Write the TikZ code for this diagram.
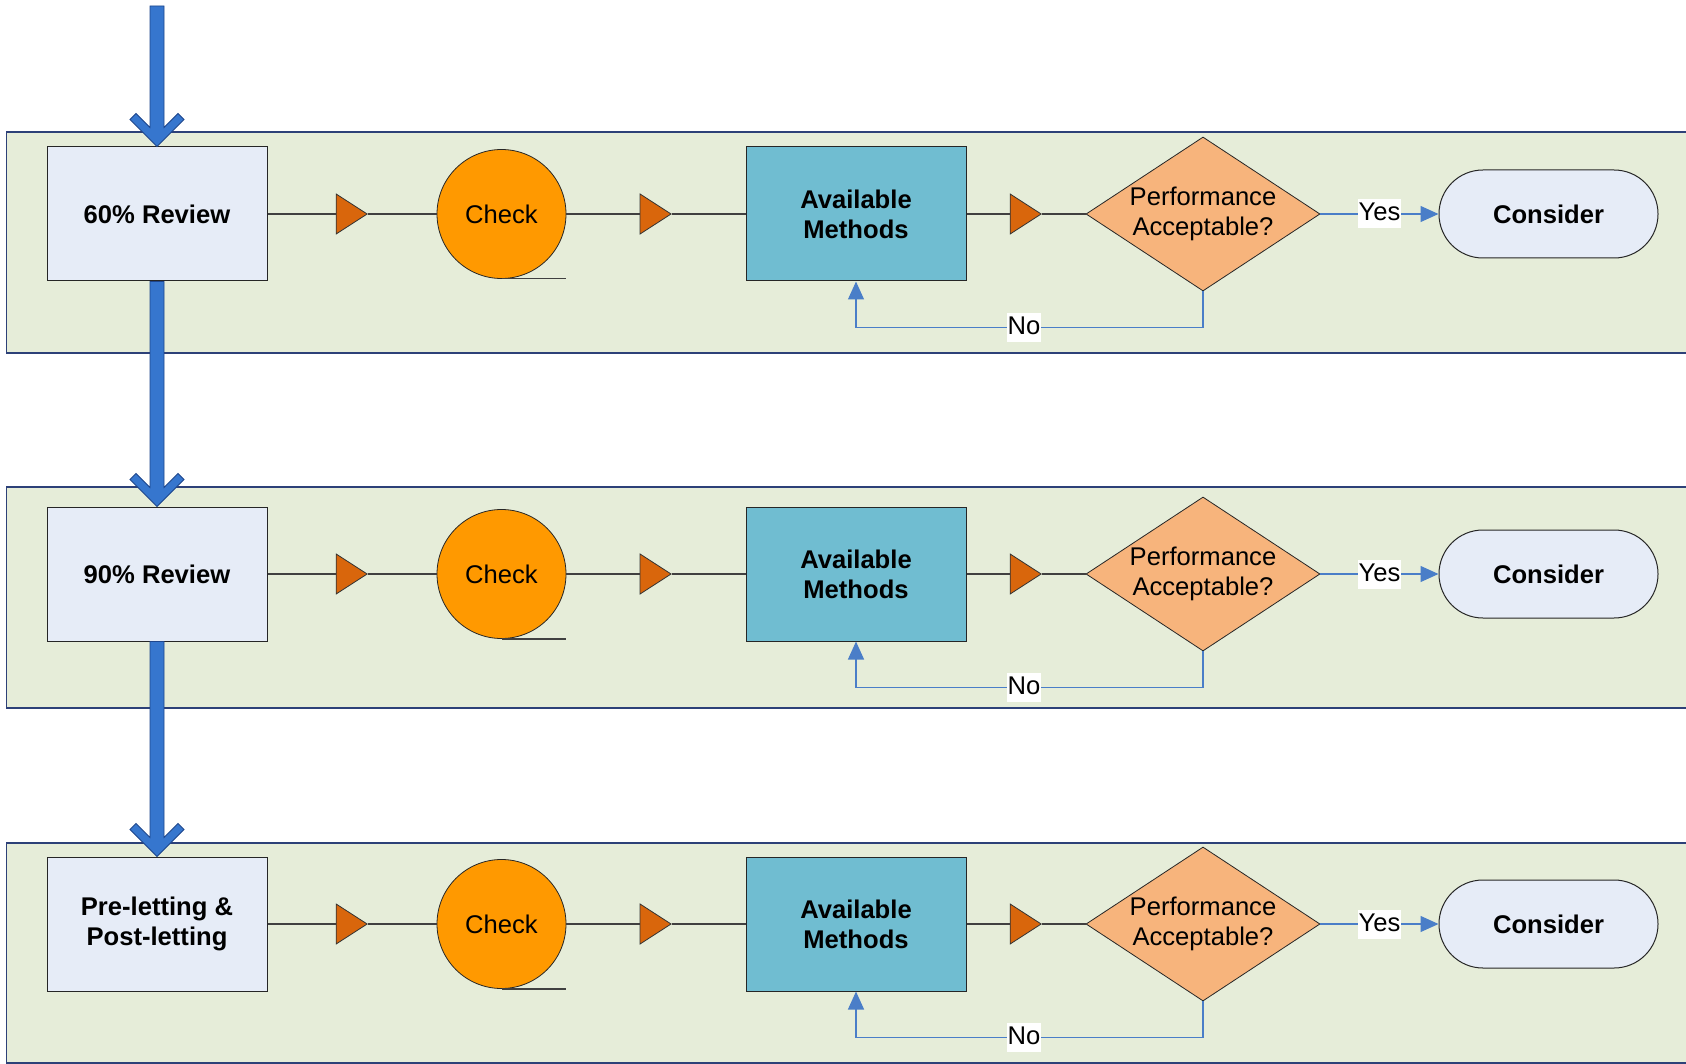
\documentclass[tikz,border=0pt]{standalone}
\usepackage{fontspec}
\setmainfont{Liberation Sans}
\usetikzlibrary{shapes.geometric,arrows.meta}
\definecolor{bandfill}{RGB}{230,237,217}
\definecolor{bandline}{RGB}{45,65,120}
\definecolor{boxfill}{RGB}{230,236,247}
\definecolor{checkfill}{RGB}{255,153,0}
\definecolor{trifill}{RGB}{217,102,12}
\definecolor{methfill}{RGB}{112,189,209}
\definecolor{diafill}{RGB}{247,180,124}
\definecolor{arrowblue}{RGB}{54,118,206}
\definecolor{arrowedge}{RGB}{30,70,140}
\definecolor{linkblue}{RGB}{74,126,200}
\newcommand\bigarr[2]{%
  \filldraw[bigarrow] ([xshift=-7pt]#1) -- ([xshift=7pt]#1)
    -- ([shift={(7pt,19pt)}]#2) -- ([shift={(21pt,33pt)}]#2)
    -- ([shift={(27pt,27pt)}]#2) -- (#2)
    -- ([shift={(-27pt,27pt)}]#2) -- ([shift={(-21pt,33pt)}]#2)
    -- ([shift={(-7pt,19pt)}]#2) -- cycle;}
\begin{document}
\begin{tikzpicture}[x=1pt,y=-1pt,
  every node/.style={font=\fontsize{25.6}{30}\selectfont, text=black},
  band/.style={fill=bandfill, draw=bandline, line width=1.5pt},
  revbox/.style={rectangle, draw=black!85, line width=1pt, fill=boxfill,
    minimum width=220pt, minimum height=134pt, align=center, inner sep=0pt,
    font=\fontsize{25.6}{30}\selectfont\bfseries},
  methbox/.style={revbox, fill=methfill},
  checknode/.style={circle, draw=black!85, line width=0.8pt, fill=checkfill,
    minimum size=129pt, inner sep=0pt},
  decision/.style={diamond, aspect=1.52, draw=black!85, line width=0.8pt, fill=diafill,
    minimum width=234pt, minimum height=154pt, inner sep=0pt, align=center},
  endnode/.style={rectangle, rounded corners=43.9pt, draw=black!85, line width=1pt,
    fill=boxfill, minimum width=219pt, minimum height=88pt, inner sep=0pt,
    font=\fontsize{25.6}{30}\selectfont\bfseries},
  tri/.style={isosceles triangle, isosceles triangle stretches, minimum width=40pt,
    minimum height=31pt, inner sep=0pt, draw=black!80, line width=0.8pt, fill=trifill,
    xshift=-5pt},
  conn/.style={draw=black!75, line width=1.2pt},
  link/.style={draw=linkblue, line width=1.2pt, -{Triangle[length=18pt,width=16pt]}},
  lab/.style={fill=white, inner xsep=0.5pt, inner ysep=0pt, text height=21.5pt, text depth=7.5pt},
  bigarrow/.style={fill=arrowblue, draw=arrowedge, line width=0.8pt, line join=miter}
]
\clip (0,0) rectangle (1686,1064);
\fill[white] (0,0) rectangle (1686,1064);
\foreach \i/\y/\bt/\bb/\lab in {1/214/132/353/{60\% Review},
                              2/574/487/708/{90\% Review},
                              3/924/843/1063/{Pre-letting \&\\Post-letting}}{
  \draw[band] (1720,\bt) -- (6.5,\bt) -- (6.5,\bb) -- (1720,\bb);
  \node[revbox] (r\i) at (157,\y) {\lab};
  \node[checknode] (c\i) at (501.5,\y) {Check};
  \node[methbox] (m\i) at (856,\y) {Available\\Methods};
  \node[decision] (d\i) at (1203,\y) {Performance\\Acceptable?};
  \node[endnode] (k\i) at (1548.5,\y) {Consider};
  \path (r\i.east) -- node[tri] (ta\i) {} (c\i.west);
  \path (c\i.east) -- node[tri] (tb\i) {} (m\i.west);
  \path (m\i.east) -- node[tri] (tc\i) {} (d\i.west);
  \draw[conn] (r\i) -- (ta\i) -- (c\i);
  \draw[conn] (c\i) -- (tb\i) -- (m\i);
  \draw[conn] (m\i) -- (tc\i) -- (d\i);
  \draw[conn] (c\i.south) -- (c\i.south -| c\i.east);
  \draw[link] (d\i) -- node[lab] {Yes} (k\i);
  \draw[link] (d\i.south) -- ([yshift=-36pt]d\i.south) -| node[pos=0.258, lab] {No} (m\i.south);
}
\coordinate (start) at (157,6);
\bigarr{start}{r1.north}
\bigarr{r1.south}{r2.north}
\bigarr{r2.south}{r3.north}
\end{tikzpicture}
\end{document}
